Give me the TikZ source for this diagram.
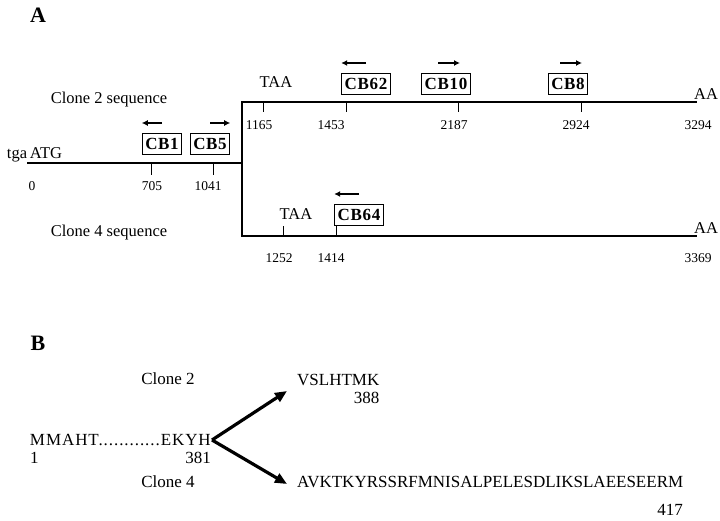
\documentclass[tikz,border=0pt]{standalone}
\usepackage{fontspec}
\setmainfont{Liberation Serif}
\usetikzlibrary{positioning,arrows.meta}

\begin{document}
\begin{tikzpicture}[x=1pt,y=-1pt,
  lbl/.style={font=\fontsize{16.5}{18}\selectfont, inner sep=0pt},
  num/.style={font=\fontsize{13.5}{15}\selectfont, inner sep=0pt},
  seqtxt/.style={font=\fontsize{17}{19}\selectfont, inner sep=0pt},
  primer/.style={draw, line width=1pt, font=\fontsize{17}{19}\selectfont\bfseries\addfontfeature{LetterSpace=4}, inner xsep=3pt, inner ysep=0pt, minimum height=21pt},
  seqline/.style={line width=2.5pt},
  tick/.style={line width=1pt},
  parr/.style={-{Latex[length=6pt,width=6pt]}, line width=1.5pt},
  branch/.style={-{Triangle[length=12pt,width=10pt]}, line width=3.2pt}]
\useasboundingbox (0,0) rectangle (720,521);

% Panel A
\node[font=\fontsize{22}{24}\selectfont\bfseries, inner sep=0pt] (labA) at (38,15) {A};

% sequence lines
\coordinate (start) at (27,163);
\coordinate (split) at (242,163);
\coordinate (top0) at (242,102);
\coordinate (top1) at (696,102);
\coordinate (bot0) at (242,236);
\coordinate (bot1) at (696,236);
\draw[seqline] (start) -- (split);
\draw[seqline, line cap=rect] (top1) -- (top0) -- (bot0) -- (bot1);

\node[lbl, anchor=base] (tga) at (17,159) {tga};
\node[lbl, anchor=base] (atg) at (46,159) {ATG};
\node[lbl] (clone2) at (109,100) {Clone 2 sequence};
\node[lbl] (clone4) at (109,233) {Clone 4 sequence};
\node[lbl] (taa2) at (276,82) {TAA};
\node[lbl] (taa4) at (296,214) {TAA};
\node[lbl] (aa2) at (706,94) {AA};
\node[lbl] (aa4) at (706,228) {AA};

% ticks and positions
\node[num] (n0) at (32,186) {0};
\foreach \x/\lx/\n in {151/152/705, 213/208/1041} {
  \draw[tick] (\x,163) -- ++(0,12);
  \node[num] (n\n) at (\lx,186) {\n};
}
\foreach \x/\lx/\n in {263/259/1165, 346/331/1453, 458/454/2187, 581/576/2924} {
  \draw[tick] (\x,102) -- ++(0,10);
  \node[num] (n\n) at (\lx,125) {\n};
}
\node[num] (n3294) at (698,125) {3294};
\foreach \x/\lx/\n in {283/279/1252, 336/331/1414} {
  \draw[tick] (\x,236) -- ++(0,-10);
  \node[num] (n\n) at (\lx,258) {\n};
}
\node[num] (n3369) at (698,258) {3369};

% primers
\node[primer] (cb1) at (162,144) {CB1};
\node[primer] (cb5) at (210,144) {CB5};
\node[primer] (cb62) at (366,84) {CB62};
\node[primer] (cb10) at (446,84) {CB10};
\node[primer] (cb8) at (568,84) {CB8};
\node[primer, fill=white] (cb64) at (359,215) {CB64};

\draw[parr] ([yshift=10pt]cb1.north) -- ([yshift=10pt]cb1.north west);
\draw[parr] ([yshift=10pt]cb5.north) -- ([yshift=10pt]cb5.north east);
\draw[parr] ([yshift=10pt]cb62.north) -- ([yshift=10pt]cb62.north west);
\draw[parr] ([shift={(-8pt,10pt)}]cb10.north) -- ([shift={(14pt,10pt)}]cb10.north);
\draw[parr] ([shift={(-8pt,10pt)}]cb8.north) -- ([shift={(14pt,10pt)}]cb8.north);
\draw[parr] ([yshift=10pt]cb64.north) -- ([yshift=10pt]cb64.north west);

% Panel B
\node[font=\fontsize{22}{24}\selectfont\bfseries, inner sep=0pt] (labB) at (38,343) {B};
\node[seqtxt] (c2) at (168,379) {Clone 2};
\node[seqtxt] (c4) at (168,482) {Clone 4};
\node[seqtxt, anchor=east] (seq) at (211,440) {\addfontfeature{LetterSpace=5.5}MMAHT............EKYH};
\node[seqtxt, anchor=west] (one) at (30,458) {1};
\node[seqtxt, anchor=east] (p381) at (211,458) {381};
\node[seqtxt, anchor=west] (v2) at (297,380) {VSLHTMK};
\node[seqtxt, anchor=east] (p388) at (v2.east |- 0,398) {388};
\node[seqtxt, anchor=west] (v4) at (297,482) {AVKTKYRSSRFMNISALPELESDLIKSLAEESEERM};
\node[seqtxt, anchor=east] (p417) at (683,510) {417};

\coordinate (e2) at (287,391);
\coordinate (e4) at (287,484);
\draw[branch] ([xshift=1pt]seq.east) -- (e2);
\draw[branch] ([xshift=1pt]seq.east) -- (e4);
\end{tikzpicture}
\end{document}
